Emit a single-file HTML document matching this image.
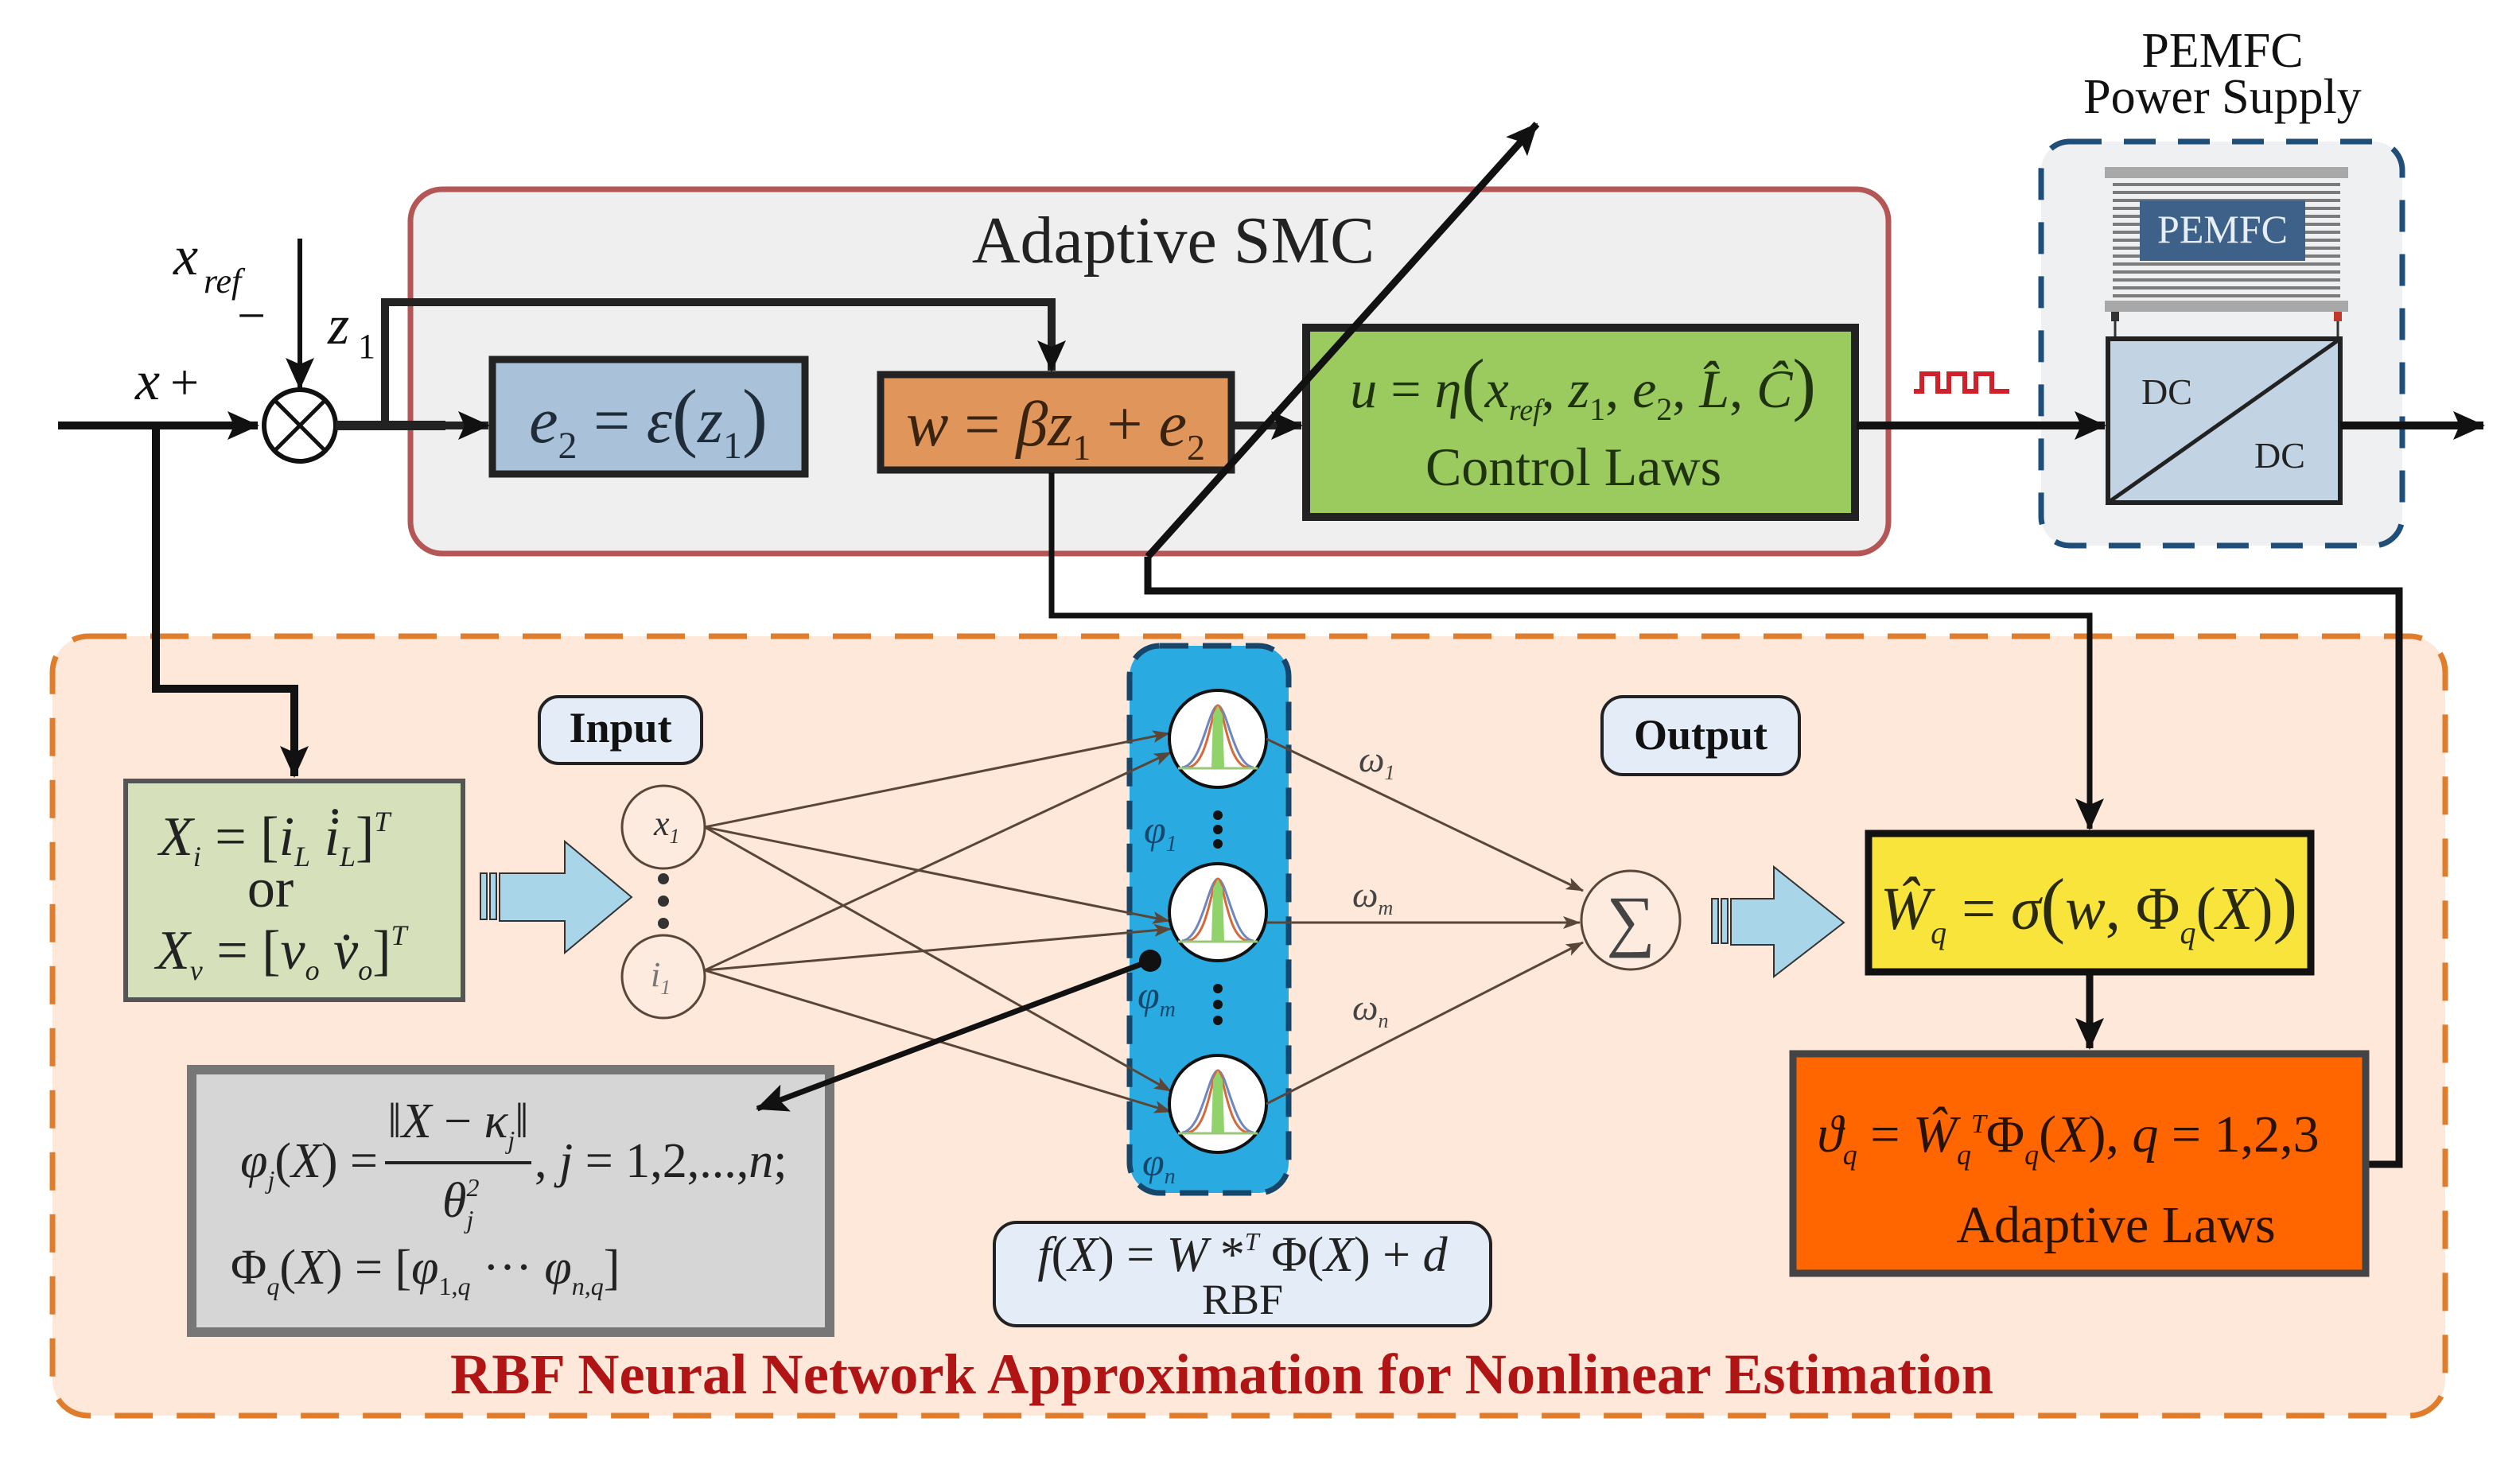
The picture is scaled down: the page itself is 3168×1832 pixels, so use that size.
<!DOCTYPE html>
<html><head><meta charset="utf-8"><style>
html,body{margin:0;padding:0;background:#fff;}
svg{display:block;}
text{font-family:"Liberation Serif",serif;}
.m{font-style:italic;}
</style></head><body>
<svg width="3168" height="1832" viewBox="0 0 3168 1832" xmlns="http://www.w3.org/2000/svg">
<defs>
<marker id="big" markerWidth="40" markerHeight="36" refX="38" refY="18" orient="auto" markerUnits="userSpaceOnUse"><path d="M0,0 L40,18 L0,36 L8,18 Z" fill="#111"/></marker>
<marker id="thin" markerWidth="22" markerHeight="16" refX="21" refY="8" orient="auto" markerUnits="userSpaceOnUse"><path d="M0,0 L22,8 L0,16 L5,8 Z" fill="#5a4638"/></marker>
<g id="gauss">
<circle r="61" fill="#fff" stroke="#111" stroke-width="4"/>
<path d="M-45,36 C-20,34 -12,-40 0,-42 C12,-40 20,34 45,36" fill="none" stroke="#6f86c0" stroke-width="3"/>
<path d="M-38,36 C-12,34 -8,-40 0,-42 C8,-40 12,34 38,36" fill="none" stroke="#d46a3a" stroke-width="3"/>
<path d="M-8,36 L-6,-30 L0,-42 L6,-30 L8,36 Z" fill="#8fd36a"/>
<path d="M-50,37 L50,37" stroke="#9ac77a" stroke-width="3"/>
</g>
</defs>

<rect x="66" y="800" width="3008" height="980" rx="45" fill="#fde8da" stroke="#e07d2c" stroke-width="7" stroke-dasharray="48,30"/>

<rect x="516" y="238" width="1858" height="458" rx="40" fill="#efeff0" stroke="#b55656" stroke-width="7"/>
<text x="1475" y="330" font-size="84" text-anchor="middle" fill="#222">Adaptive SMC</text>

<text x="2794" y="84" font-size="62" text-anchor="middle" fill="#111">PEMFC</text>
<text x="2794" y="142" font-size="62" text-anchor="middle" fill="#111">Power Supply</text>
<rect x="2566" y="178" width="454" height="508" rx="36" fill="#eff0f1" stroke="#1f4e79" stroke-width="7" stroke-dasharray="40,28"/>
<rect x="2646" y="210" width="306" height="14" fill="#a8a8a8"/>
<rect x="2646" y="378" width="306" height="14" fill="#a8a8a8"/>
<g stroke="#7b7b7b" stroke-width="4">
<line x1="2656" y1="232" x2="2942" y2="232"/><line x1="2656" y1="242" x2="2942" y2="242"/><line x1="2656" y1="252" x2="2942" y2="252"/><line x1="2656" y1="262" x2="2942" y2="262"/><line x1="2656" y1="272" x2="2942" y2="272"/><line x1="2656" y1="282" x2="2942" y2="282"/><line x1="2656" y1="292" x2="2942" y2="292"/><line x1="2656" y1="302" x2="2942" y2="302"/><line x1="2656" y1="312" x2="2942" y2="312"/><line x1="2656" y1="322" x2="2942" y2="322"/><line x1="2656" y1="332" x2="2942" y2="332"/><line x1="2656" y1="342" x2="2942" y2="342"/><line x1="2656" y1="352" x2="2942" y2="352"/><line x1="2656" y1="362" x2="2942" y2="362"/><line x1="2656" y1="372" x2="2942" y2="372"/>
</g>
<rect x="2690" y="252" width="208" height="76" fill="#3d6189"/>
<text x="2794" y="305" font-size="50" text-anchor="middle" fill="#e8eef5">PEMFC</text>
<rect x="2654" y="392" width="10" height="12" fill="#333"/><rect x="2934" y="392" width="10" height="12" fill="#c0392b"/>
<line x1="2659" y1="404" x2="2659" y2="426" stroke="#333" stroke-width="3"/><line x1="2939" y1="404" x2="2939" y2="426" stroke="#333" stroke-width="3"/>
<rect x="2650" y="426" width="292" height="206" fill="#c2d3e3" stroke="#222" stroke-width="6"/>
<line x1="2650" y1="632" x2="2942" y2="426" stroke="#222" stroke-width="5"/>
<text x="2692" y="508" font-size="46" fill="#222">DC</text>
<text x="2834" y="588" font-size="46" fill="#222">DC</text>

<line x1="73" y1="535" x2="324" y2="535" stroke="#111" stroke-width="10" marker-end="url(#big)"/>
<circle cx="377" cy="535" r="45" fill="#fff" stroke="#111" stroke-width="6"/>
<line x1="346" y1="504" x2="408" y2="566" stroke="#111" stroke-width="5"/>
<line x1="408" y1="504" x2="346" y2="566" stroke="#111" stroke-width="5"/>
<line x1="377" y1="300" x2="377" y2="488" stroke="#111" stroke-width="6" marker-end="url(#big)"/>
<text x="218" y="345" font-size="70" class="m" fill="#111">x</text>
<text x="256" y="368" font-size="44" class="m" fill="#111">ref</text>
<text x="298" y="418" font-size="64" fill="#111">−</text>
<text x="170" y="502" font-size="70" class="m" fill="#111">x</text>
<text x="214" y="502" font-size="64" fill="#111">+</text>
<text x="412" y="432" font-size="70" class="m" fill="#111">z</text>
<text x="450" y="450" font-size="44" fill="#111">1</text>
<line x1="422" y1="535" x2="560" y2="535" stroke="#222" stroke-width="12"/>
<line x1="540" y1="535" x2="614" y2="535" stroke="#222" stroke-width="10" marker-end="url(#big)"/>
<polyline points="484,535 484,380 1322,380 1322,466" fill="none" stroke="#222" stroke-width="10" marker-end="url(#big)"/>

<rect x="619" y="452" width="393" height="144" fill="#a9c2d9" stroke="#222" stroke-width="9"/>
<text x="815" y="556" font-size="82" text-anchor="middle" fill="#1f2d3a"><tspan class="m">e</tspan><tspan font-size="48" dy="20">2</tspan><tspan dy="-20"> = </tspan><tspan class="m">ε</tspan><tspan font-size="96">(</tspan><tspan class="m">z</tspan><tspan font-size="48" dy="20">1</tspan><tspan dy="-20" font-size="96">)</tspan></text>

<rect x="1107" y="471" width="441" height="120" fill="#e0965a" stroke="#222" stroke-width="9"/>
<text x="1327" y="560" font-size="80" text-anchor="middle" fill="#3a2410"><tspan class="m">w</tspan> = <tspan class="m">βz</tspan><tspan font-size="46" dy="18">1</tspan><tspan dy="-18"> + </tspan><tspan class="m">e</tspan><tspan font-size="46" dy="18">2</tspan></text>
<line x1="1552" y1="535" x2="1636" y2="535" stroke="#222" stroke-width="10" marker-end="url(#big)"/>

<rect x="1642" y="412" width="690" height="238" fill="#9bcb5f" stroke="#222" stroke-width="10"/>
<text x="1990" y="512" font-size="68" text-anchor="middle" fill="#1f3310"><tspan class="m">u</tspan> = <tspan class="m">η</tspan><tspan font-size="88">(</tspan><tspan class="m">x</tspan><tspan font-size="38" class="m" dy="16">ref</tspan><tspan dy="-16">, </tspan><tspan class="m">z</tspan><tspan font-size="40" dy="16">1</tspan><tspan dy="-16">, </tspan><tspan class="m">e</tspan><tspan font-size="40" dy="16">2</tspan><tspan dy="-16">, </tspan><tspan class="m">L̂</tspan>, <tspan class="m">Ĉ</tspan><tspan font-size="88">)</tspan></text>
<text x="1978" y="610" font-size="68" text-anchor="middle" fill="#1f3310">Control Laws</text>

<line x1="2334" y1="535" x2="2646" y2="535" stroke="#111" stroke-width="10" marker-end="url(#big)"/>
<polyline points="2406,492 2416,492 2416,470 2436,470 2436,492 2450,492 2450,470 2470,470 2470,492 2484,492 2484,470 2504,470 2504,492 2526,492" fill="none" stroke="#d0202a" stroke-width="6"/>
<line x1="2942" y1="535" x2="3122" y2="535" stroke="#111" stroke-width="10" marker-end="url(#big)"/>

<polyline points="2976,1464 3016,1464 3016,743 1443,743 1443,700" fill="none" stroke="#111" stroke-width="9"/>
<line x1="1443" y1="700" x2="1932" y2="156" stroke="#111" stroke-width="9" marker-end="url(#big)"/>
<polyline points="1322,594 1322,774 2627,774 2627,1042" fill="none" stroke="#111" stroke-width="7" marker-end="url(#big)"/>

<polyline points="196,535 196,866 370,866 370,976" fill="none" stroke="#111" stroke-width="10" marker-end="url(#big)"/>

<rect x="158" y="982" width="424" height="275" fill="#d6e0bb" stroke="#555" stroke-width="6"/>
<text x="200" y="1075" font-size="70" fill="#222"><tspan class="m">X</tspan><tspan font-size="36" class="m" dy="14">i</tspan><tspan dy="-14"> = [</tspan><tspan class="m">i</tspan><tspan font-size="36" class="m" dy="14">L</tspan><tspan dy="-14">   </tspan><tspan class="m">i̇</tspan><tspan font-size="36" class="m" dy="14">L</tspan><tspan dy="-14">]</tspan><tspan font-size="36" class="m" dy="-30">T</tspan></text>
<text x="340" y="1140" font-size="70" text-anchor="middle" fill="#222">or</text>
<text x="196" y="1218" font-size="70" fill="#222"><tspan class="m">X</tspan><tspan font-size="36" class="m" dy="14">v</tspan><tspan dy="-14"> = [</tspan><tspan class="m">v</tspan><tspan font-size="36" class="m" dy="14">o</tspan><tspan dy="-14">    </tspan><tspan class="m">v̇</tspan><tspan font-size="36" class="m" dy="14">o</tspan><tspan dy="-14">]</tspan><tspan font-size="36" class="m" dy="-30">T</tspan></text>

<g stroke="#333" stroke-width="2" fill="#a8d5e8">
<rect x="604" y="1098" width="8" height="58"/><rect x="616" y="1098" width="8" height="58"/>
<path d="M628,1098 L710,1098 L710,1058 L794,1128 L710,1198 L710,1158 L628,1158 Z"/>
</g>

<rect x="678" y="876" width="204" height="84" rx="24" fill="#e4edf7" stroke="#222" stroke-width="4"/>
<text x="780" y="933" font-size="54" font-weight="bold" text-anchor="middle" fill="#111">Input</text>

<circle cx="834" cy="1040" r="52" fill="#fdebe0" stroke="#5a4638" stroke-width="3"/>
<text x="822" y="1050" font-size="44" class="m" fill="#333">x<tspan font-size="26" dy="10">1</tspan></text>
<circle cx="834" cy="1228" r="52" fill="#fdebe0" stroke="#5a4638" stroke-width="3"/>
<text x="818" y="1240" font-size="44" class="m" fill="#777">i<tspan font-size="26" dy="10">1</tspan></text>
<circle cx="834" cy="1105" r="7" fill="#333"/><circle cx="834" cy="1133" r="7" fill="#333"/><circle cx="834" cy="1161" r="7" fill="#333"/>

<rect x="1420" y="812" width="200" height="688" rx="38" fill="#29abe2" stroke="#17466b" stroke-width="7" stroke-dasharray="36,18"/>

<g stroke="#5a4638" stroke-width="3" fill="none" marker-end="url(#thin)">
<line x1="886" y1="1040" x2="1470" y2="922"/>
<line x1="886" y1="1040" x2="1470" y2="1158"/>
<line x1="886" y1="1040" x2="1472" y2="1372"/>
<line x1="886" y1="1220" x2="1472" y2="946"/>
<line x1="886" y1="1220" x2="1472" y2="1168"/>
<line x1="886" y1="1220" x2="1472" y2="1398"/>
</g>
<use href="#gauss" x="1531" y="929"/>
<use href="#gauss" x="1531" y="1147"/>
<use href="#gauss" x="1531" y="1388"/>
<circle cx="1531" cy="1025" r="6" fill="#111"/><circle cx="1531" cy="1043" r="6" fill="#111"/><circle cx="1531" cy="1061" r="6" fill="#111"/>
<circle cx="1531" cy="1243" r="6" fill="#111"/><circle cx="1531" cy="1263" r="6" fill="#111"/><circle cx="1531" cy="1283" r="6" fill="#111"/>
<text x="1438" y="1060" font-size="50" class="m" fill="#17466b">φ<tspan font-size="28" dy="10">1</tspan></text>
<text x="1430" y="1268" font-size="50" class="m" fill="#17466b">φ<tspan font-size="28" dy="10">m</tspan></text>
<text x="1436" y="1478" font-size="50" class="m" fill="#17466b">φ<tspan font-size="28" dy="10">n</tspan></text>

<g stroke="#5a4638" stroke-width="3" fill="none" marker-end="url(#thin)">
<line x1="1592" y1="929" x2="1990" y2="1120"/>
<line x1="1592" y1="1160" x2="1986" y2="1160"/>
<line x1="1592" y1="1388" x2="1990" y2="1185"/>
</g>
<text x="1708" y="970" font-size="46" class="m" fill="#444">ω<tspan font-size="26" dy="10">1</tspan></text>
<text x="1700" y="1140" font-size="46" class="m" fill="#444">ω<tspan font-size="26" dy="10">m</tspan></text>
<text x="1700" y="1282" font-size="46" class="m" fill="#444">ω<tspan font-size="26" dy="10">n</tspan></text>

<circle cx="2050" cy="1157" r="62" fill="#fdebe0" stroke="#5a4638" stroke-width="3"/>
<text x="2050" y="1186" font-size="86" text-anchor="middle" fill="#444">∑</text>

<rect x="2014" y="876" width="248" height="98" rx="26" fill="#e4edf7" stroke="#222" stroke-width="4"/>
<text x="2138" y="942" font-size="54" font-weight="bold" text-anchor="middle" fill="#111">Output</text>

<g stroke="#333" stroke-width="2" fill="#a8d5e8">
<rect x="2152" y="1130" width="8" height="56"/><rect x="2164" y="1130" width="8" height="56"/>
<path d="M2176,1130 L2230,1130 L2230,1090 L2318,1160 L2230,1228 L2230,1188 L2176,1188 Z"/>
</g>

<rect x="2349" y="1048" width="556" height="174" fill="#f8e43a" stroke="#111" stroke-width="9"/>
<text x="2626" y="1168" font-size="76" text-anchor="middle" fill="#2a2a10"><tspan class="m">Ŵ</tspan><tspan font-size="40" class="m" dy="18">q</tspan><tspan dy="-18"> = </tspan><tspan class="m">σ</tspan><tspan font-size="92">(</tspan><tspan class="m">w</tspan>, Φ<tspan font-size="40" class="m" dy="18">q</tspan><tspan dy="-18">(</tspan><tspan class="m">X</tspan>)<tspan font-size="92">)</tspan></text>
<line x1="2627" y1="1226" x2="2627" y2="1318" stroke="#111" stroke-width="9" marker-end="url(#big)"/>

<rect x="2254" y="1325" width="720" height="276" fill="#ff6600" stroke="#444" stroke-width="9"/>
<text x="2600" y="1448" font-size="66" text-anchor="middle" fill="#2a1200"><tspan class="m">ϑ</tspan><tspan font-size="36" class="m" dy="16">q</tspan><tspan dy="-16"> = </tspan><tspan class="m">Ŵ</tspan><tspan font-size="36" class="m" dy="16">q</tspan><tspan font-size="34" class="m" dy="-40">T</tspan><tspan dy="24">Φ</tspan><tspan font-size="36" class="m" dy="16">q</tspan><tspan dy="-16">(</tspan><tspan class="m">X</tspan>),  <tspan class="m">q</tspan> = 1,2,3</text>
<text x="2660" y="1562" font-size="66" text-anchor="middle" fill="#2a1200">Adaptive Laws</text>

<rect x="241" y="1345" width="802" height="330" fill="#d6d6d6" stroke="#777" stroke-width="12"/>
<text x="475" y="1480" font-size="62" text-anchor="end" fill="#222"><tspan class="m">φ</tspan><tspan font-size="32" class="m" dy="14">j</tspan><tspan dy="-14">(</tspan><tspan class="m">X</tspan>) =</text>
<text x="576" y="1430" font-size="62" text-anchor="middle" fill="#222">‖<tspan class="m">X</tspan> − <tspan class="m">κ</tspan><tspan font-size="32" class="m" dy="14">j</tspan><tspan dy="-14">‖</tspan></text>
<line x1="484" y1="1462" x2="668" y2="1462" stroke="#222" stroke-width="4"/>
<text x="556" y="1530" font-size="62" class="m" fill="#222">θ<tspan font-size="32" dy="-26">2</tspan><tspan font-size="32" dx="-16" dy="40">j</tspan></text>
<text x="672" y="1480" font-size="62" fill="#222">,  <tspan class="m">j</tspan> = 1,2,...,<tspan class="m">n</tspan>;</text>
<text x="290" y="1614" font-size="62" fill="#222">Φ<tspan font-size="32" class="m" dy="14">q</tspan><tspan dy="-14">(</tspan><tspan class="m">X</tspan>) = [<tspan class="m">φ</tspan><tspan font-size="32" dy="14">1,</tspan><tspan font-size="32" class="m">q</tspan><tspan dy="-14">   ···   </tspan><tspan class="m">φ</tspan><tspan font-size="32" class="m" dy="14">n,q</tspan><tspan dy="-14">]</tspan></text>

<!-- pointer arrow (drawn on top) -->
<circle cx="1446" cy="1208" r="14" fill="#111"/>
<line x1="1446" y1="1208" x2="952" y2="1394" stroke="#111" stroke-width="7" marker-end="url(#big)"/>

<rect x="1250" y="1537" width="624" height="130" rx="28" fill="#e4edf7" stroke="#222" stroke-width="4"/>
<text x="1562" y="1598" font-size="62" text-anchor="middle" fill="#222"><tspan class="m">f</tspan>(<tspan class="m">X</tspan>) = <tspan class="m">W</tspan> *<tspan font-size="32" class="m" dy="-26">T</tspan><tspan dy="26"> Φ(</tspan><tspan class="m">X</tspan>) + <tspan class="m">d</tspan></text>
<text x="1562" y="1652" font-size="54" text-anchor="middle" fill="#222">RBF</text>

<text x="1536" y="1752" font-size="72" font-weight="bold" text-anchor="middle" fill="#b01414" textLength="1940" lengthAdjust="spacingAndGlyphs">RBF Neural Network Approximation for Nonlinear Estimation</text>
</svg>
</body></html>
